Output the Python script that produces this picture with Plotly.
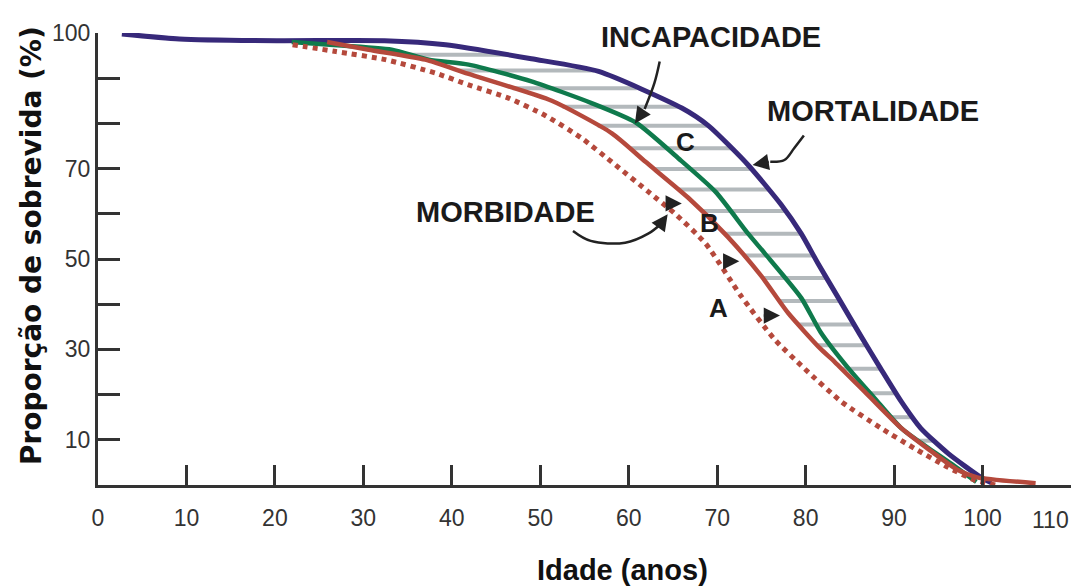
import numpy as np
import plotly.graph_objects as go

# ---------------- data ----------------
mort_x = [2.7, 9.2, 20.2, 32.4, 39.3, 49.0, 56.6, 66.0, 69.0, 73.5, 77.2, 79.5, 81.4, 83.7, 86.2, 88.5, 90.8, 93.0, 96.1, 99.8, 101.0]
mort_y = [99.8, 98.7, 98.3, 98.3, 97.4, 94.3, 91.5, 83.4, 79.5, 70.8, 62.1, 55.6, 49.0, 41.4, 33.1, 25.7, 18.5, 12.6, 7.0, 1.7, 0.5]

inc_x = [21.9, 26.2, 33.2, 37.4, 41.9, 49.0, 55.8, 60.8, 65.6, 69.8, 73.5, 75.4, 79.5, 81.7, 84.8, 87.8, 90.8, 93.8, 96.4, 99.3]
inc_y = [98.0, 97.4, 96.3, 94.1, 93.0, 89.3, 84.5, 80.2, 72.3, 64.9, 55.6, 51.2, 41.4, 33.8, 25.9, 19.2, 12.6, 8.3, 4.8, 0.7]

morb_x = [25.9, 30.6, 37.0, 41.8, 51.3, 58.1, 61.9, 66.7, 71.2, 75.0, 78.0, 81.7, 83.3, 87.0, 90.8, 94.1, 97.2, 99.4, 106.0]
morb_y = [98.0, 96.3, 94.1, 91.0, 85.0, 77.8, 71.5, 63.6, 54.9, 46.2, 38.1, 30.1, 27.2, 20.0, 12.6, 7.6, 3.3, 1.7, 0.4]

morbA_x = [22.0, 26.9, 32.5, 38.2, 41.9, 46.4, 50.6, 54.7, 58.5, 62.2, 65.3, 68.7, 72.7, 76.5, 79.9, 84.0, 88.5, 92.3, 96.1, 99.1, 101.5]
morbA_y = [97.4, 95.9, 94.1, 91.1, 88.5, 85.6, 81.7, 76.7, 70.8, 64.9, 59.9, 53.4, 41.8, 32.2, 25.7, 18.5, 12.6, 8.1, 3.9, 1.1, 0.0]

hatch_levels = [95.2, 91.7, 87.8, 83.7, 79.5, 74.5, 69.9, 65.4, 60.6, 55.6, 50.8, 45.8,
                40.7, 35.5, 30.9, 25.7, 20.3, 15.0, 9.8]

x_ticks = [0, 10, 20, 30, 40, 50, 60, 70, 80, 90, 100, 110]
x_ticktext = ["0", "10", "20", "30", "40", "50", "60", "70", "80", "90", "100", ""]
y_ticks = [0, 10, 20, 30, 40, 50, 60, 70, 80, 90, 100]
y_ticktext = ["", "10", "", "30", "", "50", "", "70", "", "", "100"]

# annotation arrow paths
incap_arrow_x = [63.5, 62.9, 61.8, 60.7]
incap_arrow_y = [93.7, 88.9, 83.2, 80.0]
mort_arrow_x = [79.8, 78.7, 77.6, 76.0, 74.0]
mort_arrow_y = [77.3, 74.5, 71.9, 71.5, 70.8]
morb_arrow_x = [53.7, 55.7, 59.6, 62.2, 63.6, 64.4]
morb_arrow_y = [56.2, 54.0, 53.6, 55.6, 57.7, 59.9]

# ---------------- styles ----------------
PURPLE = "#37297a"
GREEN = "#0f7a4c"
RED = "#b5493c"
HATCH = "#b3b9bc"
INK = "#222222"
AXIS = "#333333"
TICKFONT = "Liberation Sans Narrow, Arial Narrow, Liberation Sans, Arial, sans-serif"
BOLDFONT = "Liberation Sans, Arial, Helvetica, sans-serif"
WIDEFONT = "DejaVu Sans, Verdana, sans-serif"

fig = go.Figure()

# hatch lines between the solid red curve and the mortality curve
hx, hy = [], []
for lv in hatch_levels:
    xr = np.interp(lv, morb_y[::-1], morb_x[::-1])
    xp = np.interp(lv, mort_y[::-1], mort_x[::-1])
    hx += [xr, xp, None]
    hy += [lv, lv, None]
fig.add_trace(go.Scatter(x=hx, y=hy, mode="lines", line=dict(color=HATCH, width=4),
                         hoverinfo="skip", showlegend=False))

fig.add_trace(go.Scatter(x=mort_x, y=mort_y, mode="lines",
                         line=dict(color=PURPLE, width=5, shape="spline", smoothing=0.6),
                         showlegend=False))
fig.add_trace(go.Scatter(x=inc_x, y=inc_y, mode="lines",
                         line=dict(color=GREEN, width=4.5, shape="spline", smoothing=0.6),
                         showlegend=False))
fig.add_trace(go.Scatter(x=morbA_x, y=morbA_y, mode="lines",
                         line=dict(color=RED, width=5, dash="5px,5px", shape="spline", smoothing=0.6),
                         showlegend=False))
fig.add_trace(go.Scatter(x=morb_x, y=morb_y, mode="lines",
                         line=dict(color=RED, width=4.5, shape="spline", smoothing=0.6),
                         showlegend=False))

# curved pointer lines
for ax_, ay_ in [(incap_arrow_x, incap_arrow_y), (mort_arrow_x, mort_arrow_y), (morb_arrow_x, morb_arrow_y)]:
    fig.add_trace(go.Scatter(x=ax_[:-1], y=ay_[:-1], mode="lines",
                             line=dict(color=INK, width=2.5, shape="spline", smoothing=1.0),
                             hoverinfo="skip", showlegend=False))
    fig.add_annotation(x=ax_[-1], y=ay_[-1], ax=ax_[-2], ay=ay_[-2], axref="x", ayref="y",
                       xref="x", yref="y", text="", showarrow=True, arrowhead=2,
                       arrowsize=1.3, arrowwidth=2.5, arrowcolor=INK)

# small straight arrows
for (x0, x1, yy) in [(64.2, 66.0, 62.3), (70.8, 72.5, 49.5), (75.1, 77.1, 37.5)]:
    fig.add_annotation(x=x1, y=yy, ax=x0, ay=yy, axref="x", ayref="y", xref="x", yref="y",
                       text="", showarrow=True, arrowhead=2, arrowsize=1.3, arrowwidth=2.5,
                       arrowcolor=INK)

# text labels
labels = [("INCAPACIDADE", 69.3, 99.1, 29), ("MORTALIDADE", 87.6, 82.8, 29),
          ("MORBIDADE", 46.1, 60.3, 29), ("C", 66.4, 75.8, 26), ("B", 69.1, 58.0, 26),
          ("A", 70.2, 39.2, 26)]
for t, x, y, s in labels:
    fig.add_annotation(x=x, y=y, xref="x", yref="y", text=f"<b>{t}</b>", showarrow=False,
                       xanchor="center", yanchor="middle",
                       font=dict(family=BOLDFONT, size=s, color="#1a1a1a"))

# "110" tick label kept inside the page
fig.add_annotation(x=110, y=0, xref="x", yref="y", text="110", showarrow=False,
                   xanchor="right", yanchor="top", yshift=-20,
                   font=dict(family=TICKFONT, size=23, color=AXIS))

# axis titles
fig.add_annotation(x=0.539, y=-0.188, xref="paper", yref="paper", text="<b>Idade (anos)</b>",
                   xanchor="center", yanchor="middle",
                   showarrow=False, font=dict(family=BOLDFONT, size=29, color="#111"))
fig.add_annotation(x=-0.0676, y=0.529, xref="paper", yref="paper",
                   text="<b>Proporção de sobrevida (%)</b>", textangle=-90,
                   xanchor="center", yanchor="middle",
                   showarrow=False, font=dict(family=WIDEFONT, size=28, color="#111"))

fig.update_layout(
    width=1082, height=587,
    margin=dict(l=90, r=19, t=15, b=110),
    paper_bgcolor="white", plot_bgcolor="white",
    showlegend=False,
    xaxis=dict(range=[0, 110], tickvals=x_ticks, ticktext=x_ticktext, ticks="inside",
               ticklen=20, tickwidth=3, tickcolor=AXIS, showline=True, linewidth=3,
               linecolor=AXIS, showgrid=False, zeroline=False, ticklabelstandoff=10,
               tickfont=dict(family=TICKFONT, size=23, color=AXIS)),
    yaxis=dict(range=[0, 100], tickvals=y_ticks, ticktext=y_ticktext, ticks="inside",
               ticklen=22, tickwidth=3, tickcolor=AXIS, showline=True, linewidth=3,
               linecolor=AXIS, showgrid=False, zeroline=False,
               tickfont=dict(family=TICKFONT, size=23, color=AXIS)),
)

fig.write_html("out.html")
